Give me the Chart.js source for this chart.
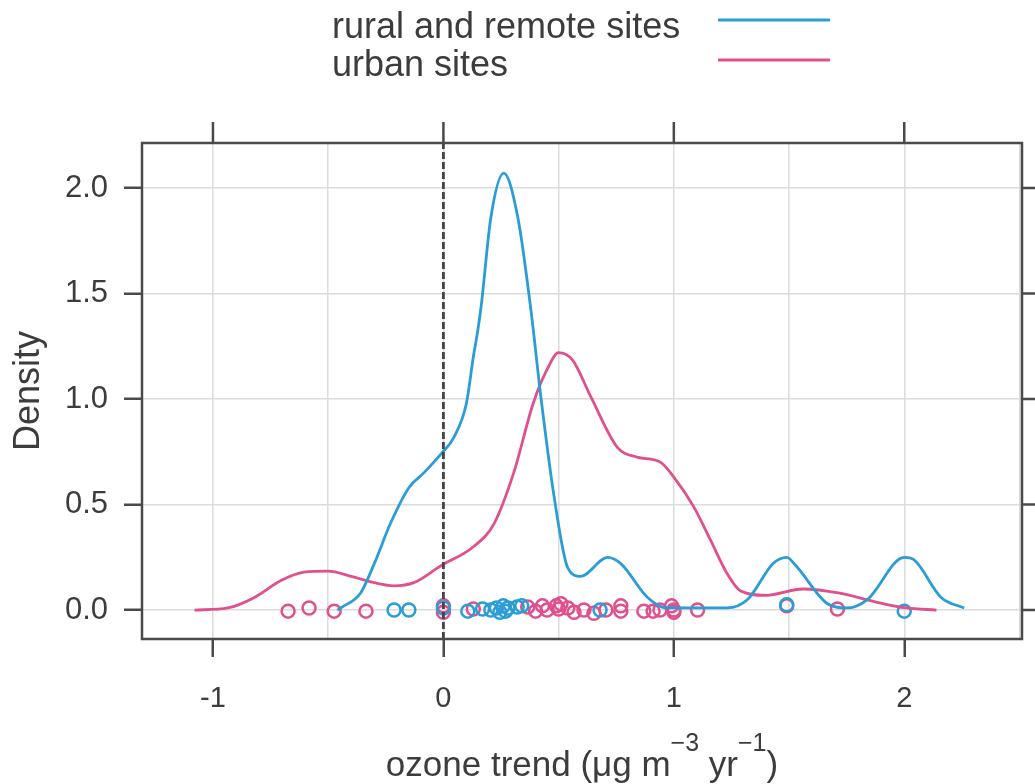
<!DOCTYPE html>
<html>
<head>
<meta charset="utf-8">
<script src="https://cdn.jsdelivr.net/npm/chart.js@4.4.1/dist/chart.umd.min.js"></script>
<style>
  body { margin: 0; background: #fff; }
  #wrap { width: 1035px; height: 784px; }
</style>
</head>
<body>
<div id="wrap"><canvas id="chart" width="1035" height="784"></canvas></div>
<script>
// density curves
const ruralX = [-0.46, -0.44, -0.36, -0.30, -0.23, -0.15, -0.085, -0.01, 0.046, 0.10, 0.13, 0.15, 0.165, 0.206, 0.262, 0.323, 0.38, 0.423, 0.48, 0.54, 0.596, 0.713, 0.77, 0.886, 0.97, 1.23, 1.32, 1.43, 1.49, 1.53, 1.667, 1.75, 1.84, 2.0, 2.04, 2.16, 2.26];
const ruralY = [0.0, 0.014, 0.08, 0.22, 0.41, 0.58, 0.65, 0.74, 0.82, 0.98, 1.20, 1.33, 1.45, 1.86, 2.07, 1.86, 1.42, 1.01, 0.54, 0.20, 0.16, 0.25, 0.22, 0.06, 0.01, 0.01, 0.05, 0.22, 0.25, 0.21, 0.03, 0.01, 0.05, 0.25, 0.24, 0.06, 0.01];

const urbanX = [-1.08, -0.935, -0.82, -0.705, -0.605, -0.50, -0.40, -0.30, -0.215, -0.128, -0.011, 0.13, 0.22, 0.305, 0.39, 0.45, 0.50, 0.56, 0.64, 0.756, 0.84, 0.943, 1.0, 1.086, 1.16, 1.23, 1.29, 1.40, 1.56, 1.72, 1.87, 2.01, 2.14];
const urbanY = [0.0, 0.01, 0.06, 0.14, 0.18, 0.185, 0.16, 0.13, 0.115, 0.13, 0.21, 0.30, 0.41, 0.65, 0.98, 1.14, 1.22, 1.185, 1.01, 0.77, 0.725, 0.70, 0.63, 0.49, 0.33, 0.175, 0.09, 0.07, 0.10, 0.08, 0.04, 0.01, 0.0];

// rug points (site trends) with their small vertical jitter
const ruralRugX = [-0.214, -0.15, 0.0, 0.106, 0.17, 0.206, 0.23, 0.245, 0.26, 0.27, 0.28, 0.32, 0.34, 0.68, 1.49, 2.0];
const ruralRugJitter = [0.0, 0.0, 0.01, -0.005, 0.005, 0.0, 0.01, -0.01, 0.02, -0.005, 0.01, 0.015, 0.02, 0.0, 0.025, -0.005];
const urbanRugX = [-0.674, -0.583, -0.474, -0.336, 0.0, 0.0, 0.13, 0.366, 0.40, 0.43, 0.45, 0.49, 0.50, 0.51, 0.54, 0.567, 0.61, 0.653, 0.705, 0.77, 0.77, 0.87, 0.91, 0.94, 0.99, 1.0, 1.0, 1.103, 1.49, 1.71];
const urbanRugJitter = [-0.005, 0.01, -0.005, -0.005, 0.02, -0.01, 0.005, 0.015, -0.005, 0.02, 0.0, 0.02, 0.005, 0.03, 0.01, -0.01, 0.0, -0.015, 0.0, 0.02, -0.005, -0.005, -0.005, 0.0, 0.02, 0.0, -0.01, 0.0, 0.02, 0.005];

const seriesNames = ['rural and remote sites', 'urban sites'];
const xTickValues = [-1, 0, 1, 2];
const xTickLabels = ['-1', '0', '1', '2'];
const yTickValues = [0, 0.5, 1, 1.5, 2];
const yTickLabels = ['0.0', '0.5', '1.0', '1.5', '2.0'];
const xRange = [-1.308, 2.511];
const yRange = [-0.137, 2.213];

const BLUE = '#2b9dd6';
const PINK = '#e0508c';
const INK = '#3c3c3c';
const FONT = '"Liberation Sans", Arial, Helvetica, sans-serif';

const toPts = (xs, ys) => xs.map((x, i) => ({ x: x, y: ys[i] }));

// frame, outer ticks on top/right, legend and axis titles
const decor = {
    id: 'decor',
    afterDraw(chart) {
        const { ctx, chartArea: a, scales } = chart;
        const xs = scales.x, ys = scales.y;
        ctx.save();
        ctx.strokeStyle = '#4a4a4a';
        ctx.lineWidth = 2.5;
        ctx.strokeRect(a.left, a.top, a.right - a.left, a.bottom - a.top);
        ctx.beginPath();
        xTickValues.forEach(v => {
            const px = xs.getPixelForValue(v);
            ctx.moveTo(px, a.top);
            ctx.lineTo(px, a.top - 21);
        });
        yTickValues.forEach(v => {
            const py = ys.getPixelForValue(v);
            ctx.moveTo(a.right, py);
            ctx.lineTo(a.right + 16, py);
        });
        ctx.stroke();

        // legend
        ctx.fillStyle = INK;
        ctx.font = '36px ' + FONT;
        ctx.textAlign = 'left';
        ctx.textBaseline = 'alphabetic';
        ctx.fillText(seriesNames[0], 332, 38);
        ctx.fillText(seriesNames[1], 332, 76);
        ctx.lineWidth = 2.8;
        ctx.strokeStyle = BLUE;
        ctx.beginPath(); ctx.moveTo(718, 20); ctx.lineTo(830, 20); ctx.stroke();
        ctx.strokeStyle = PINK;
        ctx.beginPath(); ctx.moveTo(718, 60); ctx.lineTo(830, 60); ctx.stroke();

        // y title
        ctx.save();
        ctx.translate(39, 391);
        ctx.rotate(-Math.PI / 2);
        ctx.textAlign = 'center';
        ctx.font = '36px ' + FONT;
        ctx.fillText('Density', 0, 0);
        ctx.restore();

        // x title with superscripts
        const parts = [
            ['ozone trend (\u03bcg m', 35, 0],
            ['\u22123', 25, -25],
            [' yr', 35, 0],
            ['\u22121', 25, -25],
            [')', 35, 0]
        ];
        let total = 0;
        parts.forEach(p => { ctx.font = p[1] + 'px ' + FONT; total += ctx.measureText(p[0]).width; });
        let cx = 582 - total / 2;
        parts.forEach(p => {
            ctx.font = p[1] + 'px ' + FONT;
            ctx.fillText(p[0], cx, 776 + p[2]);
            cx += ctx.measureText(p[0]).width;
        });
        ctx.restore();
    }
};

new Chart(document.getElementById('chart'), {
    type: 'scatter',
    data: {
        datasets: [
            {
                type: 'line',
                label: 'zero',
                data: [{ x: 0, y: yRange[0] }, { x: 0, y: yRange[1] }],
                borderColor: '#444',
                borderWidth: 2.8,
                borderDash: [7, 3],
                pointRadius: 0
            },
            {
                type: 'line',
                label: seriesNames[0],
                data: toPts(ruralX, ruralY),
                borderColor: BLUE,
                borderWidth: 2.8,
                pointRadius: 0,
                cubicInterpolationMode: 'monotone'
            },
            {
                type: 'line',
                label: seriesNames[1],
                data: toPts(urbanX, urbanY),
                borderColor: PINK,
                borderWidth: 2.8,
                pointRadius: 0,
                cubicInterpolationMode: 'monotone'
            },
            {
                label: 'rural points',
                data: toPts(ruralRugX, ruralRugJitter),
                borderColor: BLUE,
                backgroundColor: 'rgba(0,0,0,0)',
                borderWidth: 2.5,
                pointRadius: 6.5
            },
            {
                label: 'urban points',
                data: toPts(urbanRugX, urbanRugJitter),
                borderColor: PINK,
                backgroundColor: 'rgba(0,0,0,0)',
                borderWidth: 2.5,
                pointRadius: 6.5
            }
        ]
    },
    options: {
        responsive: false,
        animation: false,
        layout: { padding: { top: 143, right: 13, left: 0, bottom: 0 } },
        plugins: { legend: { display: false }, tooltip: { enabled: false } },
        scales: {
            x: {
                type: 'linear',
                min: xRange[0],
                max: xRange[1],
                afterFit: s => { s.height = 145; s.paddingLeft = 0; s.paddingRight = 0; },
                border: { display: false },
                grid: {
                    color: '#dcdcdc',
                    lineWidth: 1.5,
                    tickLength: 18,
                    tickWidth: 2.5,
                    tickColor: c => xTickValues.includes(c.tick.value) ? '#4a4a4a' : 'rgba(0,0,0,0)'
                },
                ticks: {
                    stepSize: 0.5,
                    includeBounds: false,
                    autoSkip: false,
                    maxRotation: 0,
                    padding: 25,
                    color: INK,
                    font: { family: FONT, size: 29 },
                    callback: v => {
                        const i = xTickValues.indexOf(v);
                        return i >= 0 ? xTickLabels[i] : '';
                    }
                }
            },
            y: {
                type: 'linear',
                min: yRange[0],
                max: yRange[1],
                afterFit: s => { s.width = 142; s.paddingTop = 0; s.paddingBottom = 0; },
                border: { display: false },
                grid: {
                    color: '#dcdcdc',
                    lineWidth: 1.5,
                    tickLength: 18,
                    tickWidth: 2.5,
                    tickColor: '#4a4a4a'
                },
                ticks: {
                    stepSize: 0.5,
                    includeBounds: false,
                    padding: 16,
                    color: INK,
                    font: { family: FONT, size: 31 },
                    callback: v => {
                        const i = yTickValues.indexOf(v);
                        return i >= 0 ? yTickLabels[i] : '';
                    }
                }
            }
        }
    },
    plugins: [decor]
});
</script>
</body>
</html>
